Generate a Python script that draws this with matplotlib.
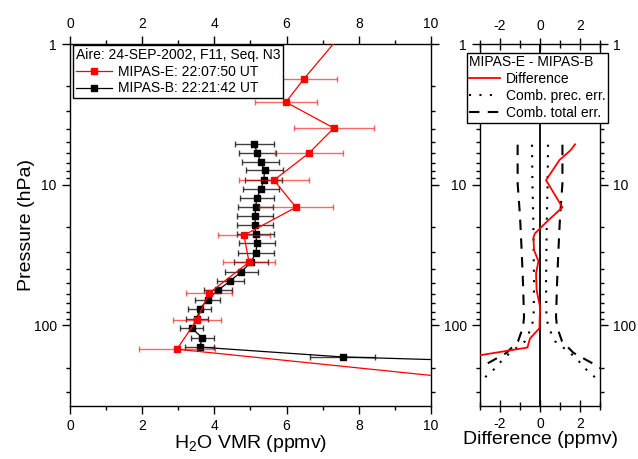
import numpy as np
import matplotlib
matplotlib.use("Agg")
import matplotlib.pyplot as plt
from matplotlib.lines import Line2D
from matplotlib.ticker import LogLocator, NullFormatter, FuncFormatter, MultipleLocator

plt.rcParams["font.family"] = ["Liberation Sans", "DejaVu Sans"]
plt.rcParams["mathtext.fontset"] = "custom"
plt.rcParams["mathtext.rm"] = "Liberation Sans"
plt.rcParams["axes.linewidth"] = 1.0
plt.rcParams["axes.unicode_minus"] = False

# MIPAS-E profile (pressure hPa, VMR ppmv, error)
e_p = [0.70, 1.77, 2.59, 3.96, 5.97, 9.29, 14.5, 22.9, 35.6, 59.2, 92.1, 148, 290]
e_vmr = [7.8, 6.48, 5.98, 7.31, 6.62, 5.65, 6.26, 4.82, 4.96, 3.85, 3.51, 2.96, 14.0]
e_err = [0.9, 0.91, 0.86, 1.1, 0.94, 0.96, 1.02, 0.72, 0.72, 0.65, 0.66, 1.05, 1.0]

# MIPAS-B profile
b_p = [5.15, 5.94, 6.92, 7.93, 9.25, 10.7, 12.4, 14.4, 16.7, 19.4, 22.5, 26.2, 30.4,
       35.7, 41.5, 48.4, 56.1, 65.6, 76.9, 89.6, 105, 123, 143, 168, 188]
b_vmr = [5.10, 5.19, 5.28, 5.39, 5.37, 5.29, 5.18, 5.14, 5.13, 5.13, 5.14, 5.18, 5.15,
         5.01, 4.75, 4.44, 4.11, 3.81, 3.59, 3.52, 3.37, 3.67, 3.59, 7.55, 14.0]
b_err = [0.54, 0.51, 0.52, 0.52, 0.51, 0.49, 0.48, 0.48, 0.49, 0.49, 0.50, 0.51, 0.50,
         0.48, 0.45, 0.37, 0.39, 0.35, 0.31, 0.31, 0.31, 0.32, 0.40, 0.91, 1.0]

# difference MIPAS-E - MIPAS-B
d_p = [5.17, 5.69, 6.69, 9.3, 14.5, 18.4, 22.2, 23.7, 29.2, 35, 42.8, 56.4, 73.9,
       105, 124, 144, 177]
d_val = [1.75, 1.53, 0.97, 0.30, 1.12, 0.33, -0.25, -0.33, -0.30, -0.08, -0.20, -0.17,
         0.0, -0.03, -0.50, -0.63, -4.5]

# combined errors
err_p = [5.2, 9.8, 16.9, 29.2, 50.6, 87.6, 103, 130, 157, 177, 198, 240, 300]
prec_err = [0.40, 0.38, 0.34, 0.32, 0.30, 0.32, 0.42, 0.75, 1.5, 1.9, 2.17, 2.83, 3.5]
total_err = [1.12, 1.12, 1.0, 0.92, 0.85, 0.80, 0.85, 1.1, 1.67, 2.33, 2.95, 3.6, 4.3]

fig = plt.figure(figsize=(6.38, 4.59), dpi=100)
ax = fig.add_axes([0.1097, 0.1155, 0.5658, 0.7886])
ax2 = fig.add_axes([0.7524, 0.1155, 0.1881, 0.7886])


def fmt_p(v, pos):
    return "%d" % v


for a in (ax, ax2):
    a.set_yscale("log")
    a.set_ylim(375, 1)
    a.yaxis.set_major_locator(LogLocator(base=10, numticks=10))
    a.yaxis.set_minor_locator(LogLocator(base=10, subs=np.arange(2, 10), numticks=10))
    a.yaxis.set_major_formatter(FuncFormatter(fmt_p))
    a.yaxis.set_minor_formatter(NullFormatter())
    a.tick_params(which="both", top=True, right=True, labelsize=10, width=1.0)
    a.tick_params(which="major", length=6, direction="out")
    a.tick_params(which="minor", length=3, direction="out")

# left panel
ax.errorbar(b_vmr, b_p, xerr=b_err, color="black", marker="s", markersize=4.5,
            lw=0.9, ecolor=(0, 0, 0, 0.75), elinewidth=1.0, capsize=2.5, zorder=2)
ax.errorbar(e_vmr, e_p, xerr=e_err, color="red", marker="s", markersize=4.5,
            lw=0.9, ecolor=(1, 0, 0, 0.6), elinewidth=1.0, capsize=2.5, zorder=3)
ax.set_xlim(0, 10)
ax.xaxis.set_major_locator(MultipleLocator(2))
ax.xaxis.set_minor_locator(MultipleLocator(1))
ax.tick_params(labeltop=True, labelright=False)
ax.set_xlabel("H$_2$O VMR (ppmv)", fontsize=14, labelpad=0)
ax.set_ylabel("Pressure (hPa)", fontsize=14, labelpad=-1)

handles = [
    Line2D([], [], color="red", marker="s", markersize=4.5, lw=0.9),
    Line2D([], [], color="black", marker="s", markersize=4.5, lw=0.9),
]
labels = ["MIPAS-E: 22:07:50 UT", "MIPAS-B: 22:21:42 UT"]
leg = ax.legend(handles, labels, title="Aire: 24-SEP-2002, F11, Seq. N3",
                loc="upper left", bbox_to_anchor=(0.009, 0.997), borderaxespad=0,
                fontsize=10, title_fontsize=10, fancybox=False, framealpha=1,
                edgecolor="black", alignment="left", handlelength=2.6,
                borderpad=0.2, labelspacing=0.2, handletextpad=0.4)
leg.get_frame().set_linewidth(1.0)

# right panel
ax2.axvline(0, color="black", lw=1.3, zorder=1)
ax2.plot(d_val, d_p, color="red", lw=1.3, label="Difference", zorder=3)
ax2.plot(prec_err, err_p, color="black", lw=1.5, linestyle=(0, (1, 4)),
         label="Comb. prec. err.")
ax2.plot(-np.array(prec_err), err_p, color="black", lw=1.5, linestyle=(0, (1, 4)))
ax2.plot(total_err, err_p, color="black", lw=1.5, linestyle=(0, (5, 4)),
         label="Comb. total err.")
ax2.plot(-np.array(total_err), err_p, color="black", lw=1.5, linestyle=(0, (5, 4)))
ax2.set_xlim(-3, 3)
ax2.set_xticks([-2, 0, 2])
ax2.xaxis.set_minor_locator(MultipleLocator(1))
ax2.tick_params(axis="x", which="both", direction="inout")
ax2.tick_params(axis="x", which="major", length=9)
ax2.tick_params(axis="x", which="minor", length=6)
ax2.tick_params(labeltop=True, labelright=True, labelleft=True)
ax2.set_xlabel("Difference (ppmv)", fontsize=14, labelpad=0)

leg2 = ax2.legend(title="MIPAS-E - MIPAS-B", loc="upper left",
                  bbox_to_anchor=(-0.111, 0.976), borderaxespad=0,
                  fontsize=10, title_fontsize=10, fancybox=False, framealpha=1,
                  edgecolor="black", alignment="left", handlelength=2.2,
                  borderpad=0.2, labelspacing=0.2, handletextpad=0.4)
leg2.get_frame().set_linewidth(1.0)

fig.savefig("out.png", dpi=100)
